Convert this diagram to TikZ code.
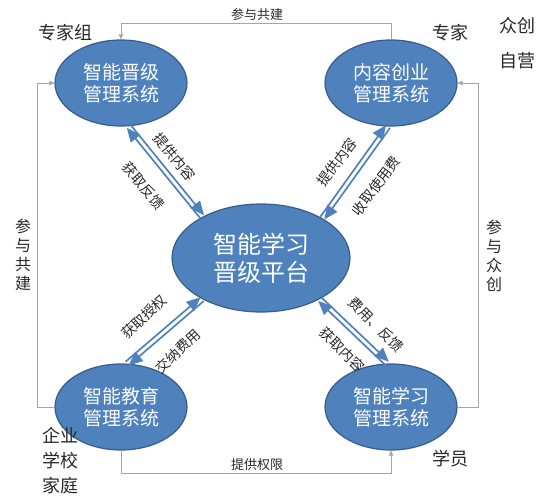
\documentclass[tikz,border=0pt]{standalone}
\usepackage{fontspec}
\setmainfont{Noto Sans CJK SC}
\usetikzlibrary{shapes,arrows.meta,calc}
\definecolor{sysblue}{RGB}{79,129,189}
\definecolor{sysedge}{RGB}{56,93,138}
\definecolor{linkgray}{RGB}{165,165,165}
\definecolor{inkgray}{RGB}{40,40,40}

\begin{document}
\begin{tikzpicture}[x=1pt,y=-1pt]
	\useasboundingbox (0,0) rectangle (546,500);
	\tikzstyle{sys}=[ellipse,draw=sysedge,line width=1.2pt,fill=sysblue,
	text=white,minimum width=132pt,minimum height=86pt,inner sep=0pt,
	align=center,font=\fontsize{19}{22}\selectfont]
	\tikzstyle{hub}=[sys,minimum width=178pt,minimum height=108pt,
	font=\fontsize{24}{28}\selectfont]
	\tikzstyle{role}=[text=inkgray,align=center,inner sep=0pt,
	font=\fontsize{18}{25}\selectfont]
	\tikzstyle{tag}=[text=inkgray,inner sep=0pt,font=\fontsize{14}{16}\selectfont]
	\tikzstyle{small}=[text=inkgray,inner sep=0pt,font=\fontsize{13}{15}\selectfont]
	\tikzstyle{side}=[text=inkgray,inner sep=0pt,align=center,
	font=\fontsize{16}{19}\selectfont]

	\node[sys] (tl) at (121,83) {智能晋级\\管理系统};
	\node[sys] (tr) at (391,83) {内容创业\\管理系统};
	\node[sys] (bl) at (121,407) {智能教育\\管理系统};
	\node[sys] (br) at (391,407) {智能学习\\管理系统};
	\node[hub] (c) at (261,258) {智能学习\\晋级平台};

	\node[role] (zjz) at (65,33) {专家组};
	\node[role] (zj) at (450,33) {专家};
	\node[role] (zc) at (517,26) {众创};
	\node[role] (zy) at (517,61) {自营};
	\node[role] (qy) at (60,461) {企业\\学校\\家庭};
	\node[role] (xy) at (450,459) {学员};

	% retours gris
	\tikzstyle{retour}=[draw=linkgray,line width=0.8pt,
	-{Triangle[length=5pt,width=4.5pt]}]
	\draw[retour] (tr.north) -- ++(0,-16) -| (tl.north);
	\draw[retour] (bl.west) -- ++(-17,0) |- (tl.west);
	\draw[retour] (br.east) -- ++(21,0) |- (tr.east);
	\draw[retour] (bl.south) -- ++(0,23) -| (br.south);
	\node[small] (gj1) at (257,15) {参与共建};
	\node[small] (qx) at (257,465) {提供权限};
	\node[side] (gj2) at (23,255) {参\\与\\共\\建};
	\node[side] (zc2) at (494,256) {参\\与\\众\\创};

	% flux bleus
	\tikzstyle{flux}=[draw=sysblue,line width=1.7pt,
	-{Triangle[length=14pt,width=12pt]}]
	\draw[flux] ($(tl.-80)!2.4pt!90:(c.145)$) -- ($(c.145)!2.4pt!-90:(tl.-80)$);
	\draw[flux] ($(c.145)!2.4pt!90:(tl.-80)$) -- ($(tl.-80)!2.4pt!-90:(c.145)$);
	\draw[flux] ($(tr.-94)!2.4pt!90:(c.33)$) -- ($(c.33)!2.4pt!-90:(tr.-94)$);
	\draw[flux] ($(c.33)!2.4pt!90:(tr.-94)$) -- ($(tr.-94)!2.4pt!-90:(c.33)$);
	\draw[flux] ($(bl.82)!2.4pt!90:(c.-145)$) -- ($(c.-145)!2.4pt!-90:(bl.82)$);
	\draw[flux] ($(c.-145)!2.4pt!90:(bl.82)$) -- ($(bl.82)!2.4pt!-90:(c.-145)$);
	\draw[flux] ($(br.95)!2.4pt!90:(c.-35)$) -- ($(c.-35)!2.4pt!-90:(br.95)$);
	\draw[flux] ($(c.-35)!2.4pt!90:(br.95)$) -- ($(br.95)!2.4pt!-90:(c.-35)$);

	\node[tag,rotate=-50] (t1) at (175,157) {提供内容};
	\node[tag,rotate=-50] (t2) at (144,186) {获取反馈};
	\node[tag,rotate=53] (t3) at (337,162) {提供内容};
	\node[tag,rotate=53] (t4) at (376,186) {收取使用费};
	\node[tag,rotate=43] (t5) at (144,317) {获取授权};
	\node[tag,rotate=43] (t6) at (178,351) {交纳费用};
	\node[tag,rotate=-45] (t7) at (376,325) {费用、反馈};
	\node[tag,rotate=-45] (t8) at (342,350) {获取内容};
\end{tikzpicture}
\end{document}
